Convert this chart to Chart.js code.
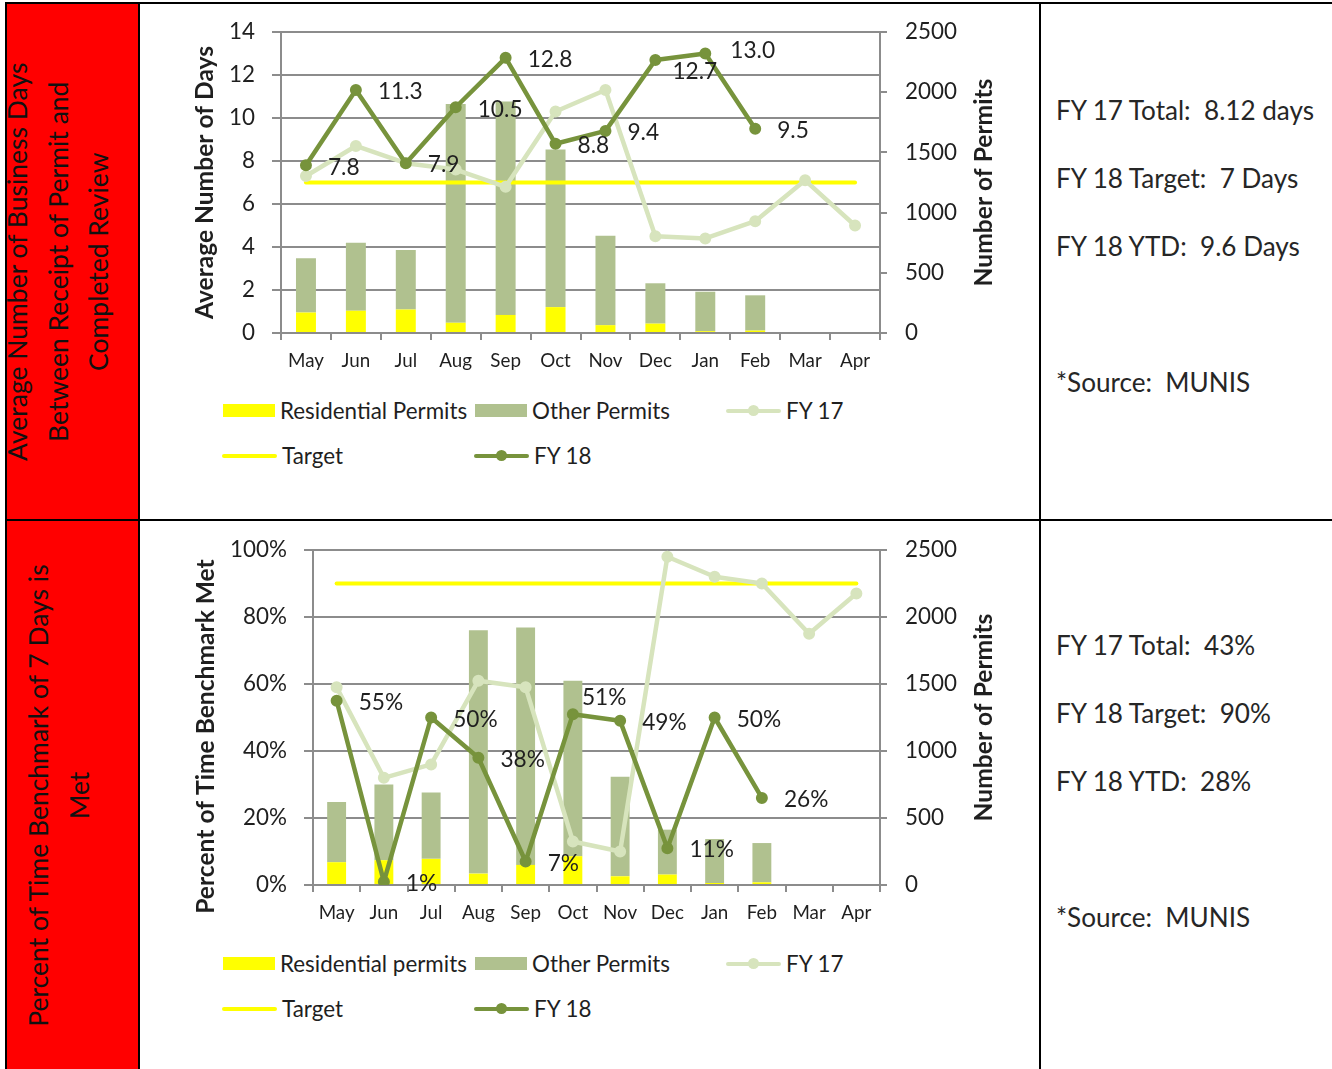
<!DOCTYPE html>
<html lang="en">
<head>
<meta charset="UTF-8">
<title>Permit Review Performance</title>
<script src="https://cdn.jsdelivr.net/npm/chart.js"></script>
<style>
  body { margin: 0; background: #fff; font-family: Lato, sans-serif; color: #262626; }
  #page { position: relative; width: 1332px; height: 1069px; overflow: hidden; }
  .rule { position: absolute; background: #000; z-index: 3; }
  .red { position: absolute; background: #ff0000; }
  .caption { position: absolute; transform: rotate(-90deg); text-align: center; color: #111;
             font-size: 26.5px; line-height: 40.5px; white-space: nowrap; z-index: 2; }
  .chart-box { position: absolute; left: 141px; }
  .chart-box canvas { display: block; }
  .legend { position: absolute; left: 222px; display: grid; grid-template-columns: repeat(3, 252px);
            grid-auto-rows: 45px; font-size: 22.4px; color: #1f1f1f; }
  .legend-item { display: flex; align-items: center; gap: 5px; white-space: nowrap; }
  .sw-box { width: 52px; height: 13px; margin-left: 1px; }
  .sw-line { position: relative; width: 55px; height: 4px; border-radius: 2px; }
  .sw-line.dot::after { content: ''; position: absolute; left: 50%; top: 50%; width: 11px; height: 11px;
                        margin: -5.5px 0 0 -5.5px; border-radius: 50%; background: inherit; }
  .note { position: absolute; left: 1056px; font-size: 26.1px; line-height: 40px; white-space: nowrap; color: #262626; }
</style>
</head>
<body>
<div id="page">
  <div class="red" style="left:7px;top:4px;width:131px;height:515px"></div>
  <div class="red" style="left:7px;top:521px;width:131px;height:548px"></div>

  <div class="caption" style="left:-200.5px;top:200.75px;width:516px;height:121.5px">Average Number of Business Days<br>Between Receipt of Permit and<br>Completed Review</div>
  <div class="caption" style="left:-200.5px;top:754.5px;width:516px;height:81px">Percent of Time Benchmark of 7 Days is<br>Met</div>

  <div class="rule" style="left:5px;top:2px;width:1327px;height:2px"></div>
  <div class="rule" style="left:5px;top:519px;width:1327px;height:2px"></div>
  <div class="rule" style="left:5px;top:2px;width:2px;height:1067px"></div>
  <div class="rule" style="left:138px;top:2px;width:2px;height:1067px"></div>
  <div class="rule" style="left:1039px;top:2px;width:2px;height:1067px"></div>

  <div class="chart-box" style="top:4px"><canvas id="daysChart" width="898" height="380"></canvas></div>
  <div class="legend" id="daysLegend" style="top:388px"></div>

  <div class="chart-box" style="top:521px"><canvas id="benchChart" width="898" height="415"></canvas></div>
  <div class="legend" id="benchLegend" style="top:941px"></div>

  <div class="note" style="top:90px">FY 17 Total:&nbsp; 8.12 days</div>
  <div class="note" style="top:158px">FY 18 Target:&nbsp; 7 Days</div>
  <div class="note" style="top:226px">FY 18 YTD:&nbsp; 9.6 Days</div>
  <div class="note" style="top:362px">*Source:&nbsp; MUNIS</div>

  <div class="note" style="top:625px">FY 17 Total:&nbsp; 43%</div>
  <div class="note" style="top:693px">FY 18 Target:&nbsp; 90%</div>
  <div class="note" style="top:761px">FY 18 YTD:&nbsp; 28%</div>
  <div class="note" style="top:897px">*Source:&nbsp; MUNIS</div>
</div>

<script>
// months of the fiscal year
const months = ['May', 'Jun', 'Jul', 'Aug', 'Sep', 'Oct', 'Nov', 'Dec', 'Jan', 'Feb', 'Mar', 'Apr'];

// permits received per month (right axis, stacked bars)
const residentialPermits = [170, 185, 195, 85, 150, 215, 65, 78, 15, 20, null, null];
const otherPermits = [450, 565, 495, 1817, 1772, 1310, 743, 335, 328, 293, null, null];

// average business days to complete review
const daysFy17 = [7.3, 8.7, 7.9, 7.6, 6.8, 10.3, 11.3, 4.5, 4.4, 5.2, 7.1, 5.0];
const daysFy18 = [7.8, 11.3, 7.9, 10.5, 12.8, 8.8, 9.4, 12.7, 13.0, 9.5, null, null];
const daysTarget = [7, 7, 7, 7, 7, 7, 7, 7, 7, 7, 7, 7];

// percent of reviews within the 7 day benchmark
const pctFy17 = [59, 32, 36, 61, 59, 13, 10, 98, 92, 90, 75, 87];
const pctFy18 = [55, 1, 50, 38, 7, 51, 49, 11, 50, 26, null, null];
const pctTarget = [90, 90, 90, 90, 90, 90, 90, 90, 90, 90, 90, 90];

const FONT = 'Lato';
const TEXT = '#1f1f1f';
const GRID = '#8c8c8c';
const YELLOW = '#ffff00';
const OLIVE_LIGHT = '#b0c18f';
const FY17_GREEN = '#d7e4bd';
const FY18_GREEN = '#77933c';

Chart.defaults.font.family = FONT;
Chart.defaults.color = TEXT;
Chart.defaults.animation = false;

// rotated axis titles, both reading bottom to top
const sideTitles = {
  id: 'sideTitles',
  afterDraw(chart, args, opts) {
    const { ctx, chartArea } = chart;
    const midY = (chartArea.top + chartArea.bottom) / 2;
    ctx.save();
    ctx.font = 'bold ' + opts.size + 'px ' + FONT;
    ctx.fillStyle = TEXT;
    ctx.textAlign = 'center';
    ctx.textBaseline = 'middle';
    opts.titles.forEach(t => {
      ctx.save();
      ctx.translate(t.x, midY + (t.dy || 0));
      ctx.rotate(-Math.PI / 2);
      ctx.fillText(t.text, 0, 0);
      ctx.restore();
    });
    ctx.restore();
  }
};

// value labels to the right of each FY 18 point
const pointLabels = {
  id: 'pointLabels',
  afterDatasetsDraw(chart, args, opts) {
    const { ctx } = chart;
    const ds = chart.data.datasets[opts.dataset];
    const meta = chart.getDatasetMeta(opts.dataset);
    ctx.save();
    ctx.font = opts.size + 'px ' + FONT;
    ctx.fillStyle = TEXT;
    ctx.textAlign = 'left';
    ctx.textBaseline = 'middle';
    meta.data.forEach((pt, i) => {
      const v = ds.data[i];
      if (v == null) return;
      const nudge = (opts.nudge && opts.nudge[i]) || [0, 0];
      ctx.fillText(opts.format(v), pt.x + 22 + nudge[0], pt.y + 2 + nudge[1]);
    });
    ctx.restore();
  }
};

function buildLegend(chart, el) {
  chart.data.datasets.forEach(ds => {
    const item = document.createElement('div');
    item.className = 'legend-item';
    const sw = document.createElement('span');
    if (ds.type === 'line') {
      sw.className = 'sw-line' + (ds.pointRadius > 0 ? ' dot' : '');
      sw.style.background = ds.borderColor;
    } else {
      sw.className = 'sw-box';
      sw.style.background = ds.backgroundColor;
    }
    item.append(sw, document.createTextNode(ds.label));
    el.appendChild(item);
  });
}

function permitDatasets(resLabel) {
  return [
    { type: 'bar', label: resLabel, data: residentialPermits, yAxisID: 'y1',
      backgroundColor: YELLOW, barPercentage: 0.4, categoryPercentage: 1, order: 3 },
    { type: 'bar', label: 'Other Permits', data: otherPermits, yAxisID: 'y1',
      backgroundColor: OLIVE_LIGHT, barPercentage: 0.4, categoryPercentage: 1, order: 4 }
  ];
}

function lineDataset(label, data, color, withPoints, order) {
  return {
    type: 'line', label, data, yAxisID: 'y', order,
    borderColor: color, backgroundColor: color,
    borderWidth: withPoints ? 4.5 : 4, borderCapStyle: 'round', borderJoinStyle: 'round',
    pointRadius: withPoints ? 5 : 0, pointBorderWidth: 2,
    pointBackgroundColor: color, pointBorderColor: color, tension: 0
  };
}

// keep the plot edges where layout.padding puts them
function fixWidth(w) {
  return s => { s.width = w; s.paddingTop = 0; s.paddingBottom = 0; };
}

function baseScales(leftWidth, leftOpts) {
  return {
    x: {
      stacked: true,
      ticks: { padding: 10, font: { size: 18.8 }, color: TEXT },
      grid: { drawOnChartArea: false, color: GRID, lineWidth: 2, tickLength: 7, offset: true },
      border: { color: GRID, width: 2 },
      afterFit(s) { s.height = 45; }
    },
    y: Object.assign({
      position: 'left',
      grid: { color: GRID, lineWidth: 2, tickLength: 9 },
      border: { color: GRID, width: 2 },
      afterFit: fixWidth(leftWidth)
    }, leftOpts),
    y1: {
      position: 'right', stacked: true, min: 0, max: 2500,
      ticks: { stepSize: 500, padding: 18, font: { size: 22.4 }, color: TEXT, callback: v => String(v) },
      grid: { drawOnChartArea: false, color: GRID, lineWidth: 2, tickLength: 7 },
      border: { color: GRID, width: 2 },
      afterFit: fixWidth(159)
    }
  };
}

// average number of days
const daysChart = new Chart(document.getElementById('daysChart'), {
  data: {
    labels: months,
    datasets: [
      ...permitDatasets('Residential Permits'),
      lineDataset('FY 17', daysFy17, FY17_GREEN, true, 1),
      lineDataset('Target', daysTarget, YELLOW, false, 2),
      lineDataset('FY 18', daysFy18, FY18_GREEN, true, 0)
    ]
  },
  options: {
    responsive: false,
    layout: { padding: { top: 28, bottom: 6, left: 0, right: 0 } },
    scales: baseScales(140, {
      min: 0, max: 14,
      ticks: { stepSize: 2, padding: 17, font: { size: 22.4 }, color: TEXT }
    }),
    plugins: {
      legend: { display: false },
      tooltip: { enabled: false },
      sideTitles: { size: 24.6, titles: [
        { text: 'Average Number of Days', x: 64 },
        { text: 'Number of Permits', x: 843 }
      ] },
      pointLabels: { dataset: 4, size: 22.7, format: v => v.toFixed(1),
        nudge: { 7: [-5, 10], 8: [3, -5] } }
    }
  },
  plugins: [sideTitles, pointLabels]
});
buildLegend(daysChart, document.getElementById('daysLegend'));

// percent of time the 7 day benchmark is met
const benchChart = new Chart(document.getElementById('benchChart'), {
  data: {
    labels: months,
    datasets: [
      ...permitDatasets('Residential permits'),
      lineDataset('FY 17', pctFy17, FY17_GREEN, true, 1),
      lineDataset('Target', pctTarget, YELLOW, false, 2),
      lineDataset('FY 18', pctFy18, FY18_GREEN, true, 0)
    ]
  },
  options: {
    responsive: false,
    layout: { padding: { top: 29, bottom: 6, left: 0, right: 0 } },
    scales: baseScales(172, {
      min: 0, max: 100,
      ticks: { stepSize: 20, padding: 17, font: { size: 22.4 }, color: TEXT, callback: v => v + '%' }
    }),
    plugins: {
      legend: { display: false },
      tooltip: { enabled: false },
      sideTitles: { size: 24.6, titles: [
        { text: 'Percent of Time Benchmark Met', x: 65, dy: 19 },
        { text: 'Number of Permits', x: 843 }
      ] },
      pointLabels: { dataset: 4, size: 22.7, format: v => v + '%',
        nudge: { 5: [-13, -18] } }
    }
  },
  plugins: [sideTitles, pointLabels]
});
buildLegend(benchChart, document.getElementById('benchLegend'));
</script>
</body>
</html>
